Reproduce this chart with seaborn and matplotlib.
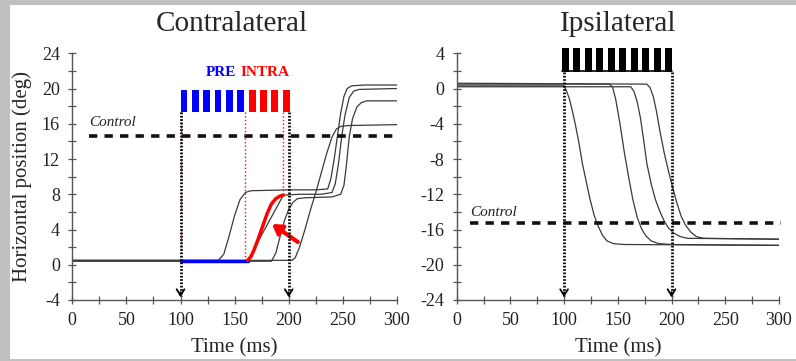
import numpy as np
import pandas as pd
import matplotlib
matplotlib.use("Agg")
import matplotlib.pyplot as plt
from matplotlib.patches import Rectangle
import seaborn as sns

sns.set_style("ticks")
plt.rcParams['font.family'] = ['Liberation Serif', 'DejaVu Serif']
plt.rcParams['axes.unicode_minus'] = False

# =========================
# Data
# =========================
# Contralateral traces: time (ms), horizontal position (deg)
l1_t = [0, 100, 135, 140, 145, 150, 155, 160, 165, 200, 225, 236, 239, 242, 245, 248, 251, 254, 258, 270, 300]
l1_y = [0.5, 0.5, 0.5, 1.2, 3.3, 5.6, 7.4, 8.2, 8.4, 8.5, 8.5, 8.6, 9.8, 12.0, 14.6, 17.2, 19.1, 20.0, 20.3, 20.4, 20.4]

pre_t = [100, 162]
pre_y = [0.45, 0.45]
intra_t = [162, 165, 168, 172, 176, 180, 184, 188, 192, 195]
intra_y = [0.5, 0.9, 1.7, 3.0, 4.4, 5.8, 6.9, 7.5, 7.8, 7.9]
l2_t = [0, 100, 162, 195, 210, 230, 240, 243, 246, 249, 252, 256, 260, 265, 300]
l2_y = [0.45, 0.45, 0.45, 7.9, 8.0, 8.0, 8.2, 9.2, 11.5, 14.6, 17.0, 19.0, 19.7, 19.9, 20.0]

l3_t = [0, 184, 188, 192, 196, 200, 204, 208, 215, 240, 248, 251, 253, 256, 259, 263, 267, 272, 300]
l3_y = [0.4, 0.4, 1.3, 3.2, 5.0, 6.3, 7.1, 7.5, 7.6, 7.7, 8.0, 9.0, 11.0, 14.6, 16.6, 17.9, 18.4, 18.6, 18.6]

l4_t = [0, 203, 206, 210, 215, 220, 225, 230, 235, 240, 244, 248, 255, 300]
l4_y = [0.5, 0.5, 0.8, 2.0, 4.0, 6.2, 8.2, 10.4, 12.6, 14.5, 15.4, 15.7, 15.8, 15.9]

# Ipsilateral traces
r1_t = [0, 100, 102, 105, 108, 111, 114, 117, 120, 124, 128, 132, 136, 140, 146, 155, 300]
r1_y = [0.3, 0.3, -0.2, -1.2, -2.7, -4.4, -6.3, -8.5, -10.2, -12.5, -14.4, -15.7, -16.7, -17.3, -17.6, -17.7, -17.8]
r2_t = [0, 142, 145, 148, 152, 156, 160, 164, 168, 172, 176, 181, 188, 200, 300]
r2_y = [0.5, 0.5, 0.2, -1.2, -4.0, -7.2, -10.0, -12.6, -14.6, -15.9, -16.7, -17.3, -17.6, -17.7, -17.8]
r3_t = [0, 162, 165, 168, 171, 174, 177, 181, 185, 189, 193, 197, 202, 208, 215, 300]
r3_y = [0.2, 0.2, -0.3, -1.5, -3.3, -5.8, -8.5, -10.8, -12.6, -13.9, -15.0, -15.8, -16.4, -16.8, -17.0, -17.1]
r4_t = [0, 177, 180, 183, 186, 189, 193, 197, 201, 205, 209, 213, 218, 223, 230, 300]
r4_y = [0.6, 0.5, 0.1, -0.9, -2.6, -4.7, -7.2, -9.3, -11.2, -13.0, -14.5, -15.5, -16.3, -16.8, -17.0, -17.1]

contra_traces = [(l1_t, l1_y), (l2_t, l2_y), (l3_t, l3_y), (l4_t, l4_y)]
ipsi_traces = [(r1_t, r1_y), (r2_t, r2_y), (r3_t, r3_y), (r4_t, r4_y)]

# stimulation pulses (onset, ms)
pre_onsets = [100, 110.5, 121, 131.5, 142, 152.5]
intra_onsets = [163, 173.5, 184, 194.5]
ipsi_onsets = [98, 108.7, 119.4, 130.1, 140.8, 151.5, 162.2, 172.9, 183.6, 194.3]
pulse_width = 6.3

contra_control = 14.6
ipsi_control = -15.3

# =========================
# Figure
# =========================
fig = plt.figure(figsize=(7.96, 3.61), dpi=100)
fig.patch.set_facecolor("#c0c0c0")
fig.patches.append(Rectangle((10 / 796, 2 / 361), 786 / 796, 354 / 361,
                             transform=fig.transFigure, facecolor="white",
                             edgecolor="none", zorder=-10))

ax1 = fig.add_axes([0.0908, 0.169, 0.4079, 0.6834])
ax2 = fig.add_axes([0.5737, 0.169, 0.4049, 0.6834])

trace_col = "#3a3a3a"
spine_col = "#555555"

def style_axes(ax, ylim, yticks):
    ax.set_facecolor("none")
    ax.set_xlim(0, 300)
    ax.set_ylim(*ylim)
    ax.set_xticks(np.arange(0, 301, 50))
    ax.set_xticks(np.arange(0, 301, 25), minor=True)
    ax.set_yticks(yticks)
    ax.set_yticks(np.arange(ylim[0], ylim[1] + 1, 2), minor=True)
    for s in ["top", "right"]:
        ax.spines[s].set_visible(False)
    for s in ["left", "bottom"]:
        ax.spines[s].set_color(spine_col)
        ax.spines[s].set_linewidth(1.0)
    ax.tick_params(which="both", direction="inout", length=6, width=0.9,
                   color=spine_col, labelsize=13, pad=6, labelcolor="#222222")
    ax.set_xlabel("Time (ms)", fontsize=15, labelpad=6)

# ---- Contralateral ----
style_axes(ax1, (-4, 24), np.arange(-4, 25, 4))
ax1.set_ylabel("Horizontal position (deg)", fontsize=15, labelpad=7)
ax1.set_title("Contralateral", fontsize=21, pad=16, x=0.49)

for t, y in contra_traces:
    sns.lineplot(x=t, y=y, ax=ax1, color=trace_col, lw=0.9, sort=False)
sns.lineplot(x=pre_t, y=pre_y, ax=ax1, color="#0000ff", lw=2.5, sort=False, zorder=5)
sns.lineplot(x=intra_t, y=intra_y, ax=ax1, color="#ff0000", lw=2.5, sort=False, zorder=5)

ax1.bar(pre_onsets, 2.5, bottom=17.3, width=pulse_width, align="edge", color="#0000ff", lw=0)
ax1.bar(intra_onsets, 2.5, bottom=17.3, width=pulse_width, align="edge", color="#ff0000", lw=0)
ax1.text(137.5, 21.8, "PRE", color="#0000ff", fontsize=11, fontweight="bold", ha="center", va="center")
ax1.text(178.5, 21.8, "INTRA", color="#ff0000", fontsize=11, fontweight="bold", ha="center", va="center")

# red dotted guides
ax1.plot([100, 100], [17.3, 0.5], color="#ff0000", lw=1.0, ls=":", zorder=4)
ax1.plot([160, 160], [17.3, 0.5], color="#ff0000", lw=1.0, ls=":", zorder=4)
ax1.plot([195, 195], [17.3, 7.9], color="#ff0000", lw=1.0, ls=":", zorder=4)

ax1.plot([15, 302], [contra_control] * 2, color="#111111", lw=2.6, dashes=(2.3, 2.0), clip_on=False)
ax1.text(16, 16.1, "Control", fontsize=11, style="italic", ha="left", va="center", color="#222222")

# red arrow
ax1.annotate("", xy=(182.5, 4.8), xytext=(210.5, 2.4),
             arrowprops=dict(arrowstyle="-|>,head_length=0.55,head_width=0.35", color="#ff0000", lw=3))

# ---- Ipsilateral ----
style_axes(ax2, (-24, 4), np.arange(-24, 5, 4))
ax2.set_title("Ipsilateral", fontsize=21, pad=16)
for t, y in ipsi_traces:
    sns.lineplot(x=t, y=y, ax=ax2, color=trace_col, lw=0.9, sort=False)
ax2.bar(ipsi_onsets, 2.7, bottom=1.9, width=pulse_width, align="edge", color="black", lw=0, clip_on=False)
ax2.plot([98, 200.5], [1.95, 1.95], color="black", lw=1.2, clip_on=False)
ax2.plot([12, 302], [ipsi_control] * 2, color="#111111", lw=2.6, dashes=(2.3, 2.0), clip_on=False)
ax2.text(13, -14.1, "Control", fontsize=11, style="italic", ha="left", va="center", color="#222222")

# black dotted arrows at 100 and 200 ms
for ax, top, bottom in [(ax1, 17.3, -4), (ax2, 1.9, -24)]:
    for x in [100, 200]:
        ax.plot([x, x], [top, bottom + 0.4], color="black", lw=2.0, dashes=(0.6, 0.6),
                zorder=6, clip_on=False)
        ax.annotate("", xy=(x, bottom), xytext=(x, bottom + 1.2),
                    arrowprops=dict(arrowstyle="->,head_length=0.45,head_width=0.28",
                                    color="black", lw=1.3), zorder=7)

for ax in (ax1, ax2):
    leg = ax.get_legend()
    if leg is not None:
        leg.remove()

fig.savefig("out.png", dpi=100, facecolor=fig.get_facecolor())
